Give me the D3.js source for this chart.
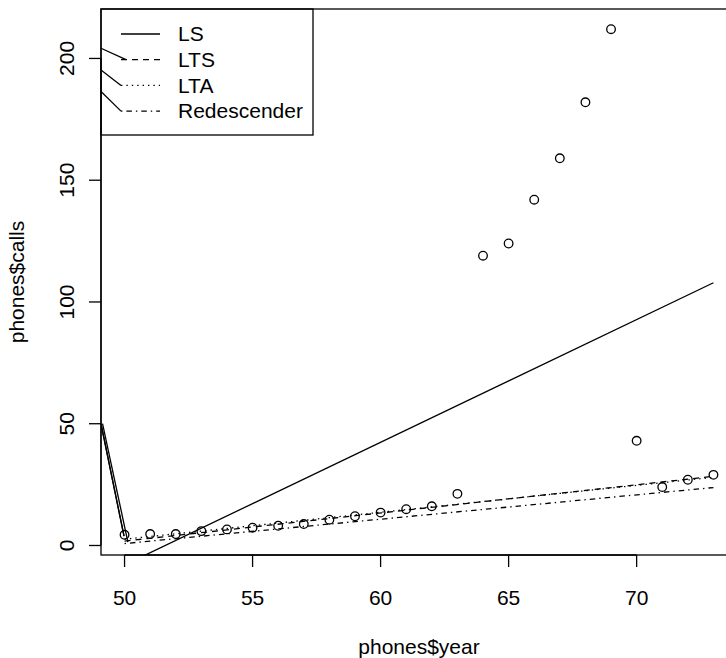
<!DOCTYPE html>
<html lang="en">
<head>
  <meta charset="UTF-8">
  <title>phones$calls vs phones$year</title>
  <script src="https://d3js.org/d3.v7.min.js"></script>
  <style>
    body {
      margin: 0;
      overflow: hidden;
      background: #ffffff;
    }
    svg {
      display: block;
      font-family: "Liberation Sans", Arial, Helvetica, sans-serif;
    }
    .frame, .axis-line, .tick-mark {
      fill: none;
      stroke: #000;
      stroke-width: 1.3;
    }
    circle.point {
      fill: none;
      stroke: #000;
      stroke-width: 1.3;
    }
    .fit, .stray {
      fill: none;
      stroke: #000;
      stroke-width: 1.3;
    }
    text {
      font-size: 21px;
      fill: #000;
    }
  </style>
</head>
<body>
  <svg width="726" height="658"></svg>

  <script>
    // phones data (year, calls)
    const years = [50, 51, 52, 53, 54, 55, 56, 57, 58, 59, 60, 61, 62, 63, 64, 65, 66, 67, 68, 69, 70, 71, 72, 73];
    const calls = [4.4, 4.7, 4.7, 5.9, 6.6, 7.3, 8.1, 8.8, 10.6, 12.0, 13.5, 14.9, 16.1, 21.2,
                   119.0, 124.0, 142.0, 159.0, 182.0, 212.0, 43.0, 24.0, 27.0, 29.0];

    // fitted lines, read at the first and last year
    const fitNames = ["LS", "LTS", "LTA", "Redescender"];
    const fitAt50 = [-8.0, 1.8, 2.6, 0.8];
    const fitAt73 = [107.9, 28.4, 28.0, 23.8];
    const fitDash = [null, "6,5", "1.4,4", "1.4,4,5.5,4"];

    // stray segments coming in from the left edge
    const strayLegendY = [204.2, 195.3, 186.4];   // join legend keys 2..4
    const strayPlotY = 50;                         // join start of fits 2..4
    const strayPlotEndX = [49.98, 49.98, 50.13];
    const strayPlotEndY = [3.8, 3.8, 1.4];

    const xTicks = [50, 55, 60, 65, 70];
    const yTicks = [0, 50, 100, 150, 200];

    const svg = d3.select("svg");

    const plot = { left: 101, top: 9, right: 737, bottom: 555 };

    const x = d3.scaleLinear()
      .domain([49.08, 73.92])
      .range([plot.left, plot.right]);

    const y = d3.scaleLinear()
      .domain([-3.904, 220.304])
      .range([plot.bottom, plot.top]);

    svg.append("clipPath")
      .attr("id", "plot-clip")
      .append("rect")
      .attr("x", plot.left)
      .attr("y", plot.top)
      .attr("width", plot.right - plot.left)
      .attr("height", plot.bottom - plot.top);

    const inner = svg.append("g").attr("clip-path", "url(#plot-clip)");

    const line = d3.line().x(d => x(d[0])).y(d => y(d[1]));

    // fitted lines
    fitNames.forEach((name, i) => {
      inner.append("path")
        .attr("class", "fit")
        .attr("d", line([[50, fitAt50[i]], [73, fitAt73[i]]]))
        .attr("stroke-dasharray", fitDash[i]);
    });

    // stray segments from the left edge down to the start of the robust fits
    strayPlotEndX.forEach((ex, i) => {
      inner.append("path")
        .attr("class", "stray")
        .attr("d", line([[x.domain()[0] + (i === 2 ? 0.06 : 0), strayPlotY], [ex, strayPlotEndY[i]]]));
    });

    // points
    inner.selectAll("circle.point")
      .data(years.map((yr, i) => [yr, calls[i]]))
      .enter()
      .append("circle")
      .attr("class", "point")
      .attr("cx", d => x(d[0]))
      .attr("cy", d => y(d[1]))
      .attr("r", 4.3);

    // frame
    svg.append("rect")
      .attr("class", "frame")
      .attr("x", plot.left)
      .attr("y", plot.top)
      .attr("width", plot.right - plot.left)
      .attr("height", plot.bottom - plot.top);

    // x axis
    const tickLen = 12;
    const xAxis = svg.append("g");
    xAxis.append("line")
      .attr("class", "axis-line")
      .attr("x1", x(xTicks[0])).attr("x2", x(xTicks[xTicks.length - 1]))
      .attr("y1", plot.bottom).attr("y2", plot.bottom);
    xAxis.selectAll("line.tick-mark")
      .data(xTicks)
      .enter()
      .append("line")
      .attr("class", "tick-mark")
      .attr("x1", d => x(d)).attr("x2", d => x(d))
      .attr("y1", plot.bottom).attr("y2", plot.bottom + tickLen);
    xAxis.selectAll("text")
      .data(xTicks)
      .enter()
      .append("text")
      .attr("x", d => x(d))
      .attr("y", 598)
      .attr("dy", "0.35em")
      .attr("text-anchor", "middle")
      .text(d => d);

    // y axis
    const yAxis = svg.append("g");
    yAxis.append("line")
      .attr("class", "axis-line")
      .attr("x1", plot.left).attr("x2", plot.left)
      .attr("y1", y(yTicks[0])).attr("y2", y(yTicks[yTicks.length - 1]));
    yAxis.selectAll("line.tick-mark")
      .data(yTicks)
      .enter()
      .append("line")
      .attr("class", "tick-mark")
      .attr("x1", plot.left - tickLen).attr("x2", plot.left)
      .attr("y1", d => y(d)).attr("y2", d => y(d));
    yAxis.selectAll("text")
      .data(yTicks)
      .enter()
      .append("text")
      .attr("transform", d => `translate(66.5,${y(d)}) rotate(-90)`)
      .attr("dy", "0.35em")
      .attr("text-anchor", "middle")
      .text(d => d);

    // axis titles
    svg.append("text")
      .attr("x", (plot.left + plot.right) / 2)
      .attr("y", 647)
      .attr("dy", "0.35em")
      .attr("text-anchor", "middle")
      .text("phones$year");

    svg.append("text")
      .attr("transform", `translate(17,${(plot.top + plot.bottom) / 2}) rotate(-90)`)
      .attr("dy", "0.35em")
      .attr("text-anchor", "middle")
      .text("phones$calls");

    // legend
    const legend = { left: plot.left, top: plot.top, right: 313, bottom: 135 };
    const rowY = i => 34 + i * 25.7;
    const keyX1 = 121, keyX2 = 160, labelX = 178;

    svg.append("rect")
      .attr("class", "frame")
      .attr("x", legend.left)
      .attr("y", legend.top)
      .attr("width", legend.right - legend.left)
      .attr("height", legend.bottom - legend.top)
      .attr("fill", "#fff");

    fitNames.forEach((name, i) => {
      svg.append("line")
        .attr("class", "fit")
        .attr("x1", keyX1).attr("x2", keyX2)
        .attr("y1", rowY(i)).attr("y2", rowY(i))
        .attr("stroke-dasharray", fitDash[i]);
      svg.append("text")
        .attr("x", labelX)
        .attr("y", rowY(i))
        .attr("dy", "0.35em")
        .text(name);
    });

    // stray segments into the legend keys
    strayLegendY.forEach((v, j) => {
      svg.append("line")
        .attr("class", "stray")
        .attr("x1", x(x.domain()[0])).attr("y1", y(v))
        .attr("x2", keyX1 + (j === 0 ? 5 : 0)).attr("y2", rowY(j + 1));
    });
  </script>
</body>
</html>
